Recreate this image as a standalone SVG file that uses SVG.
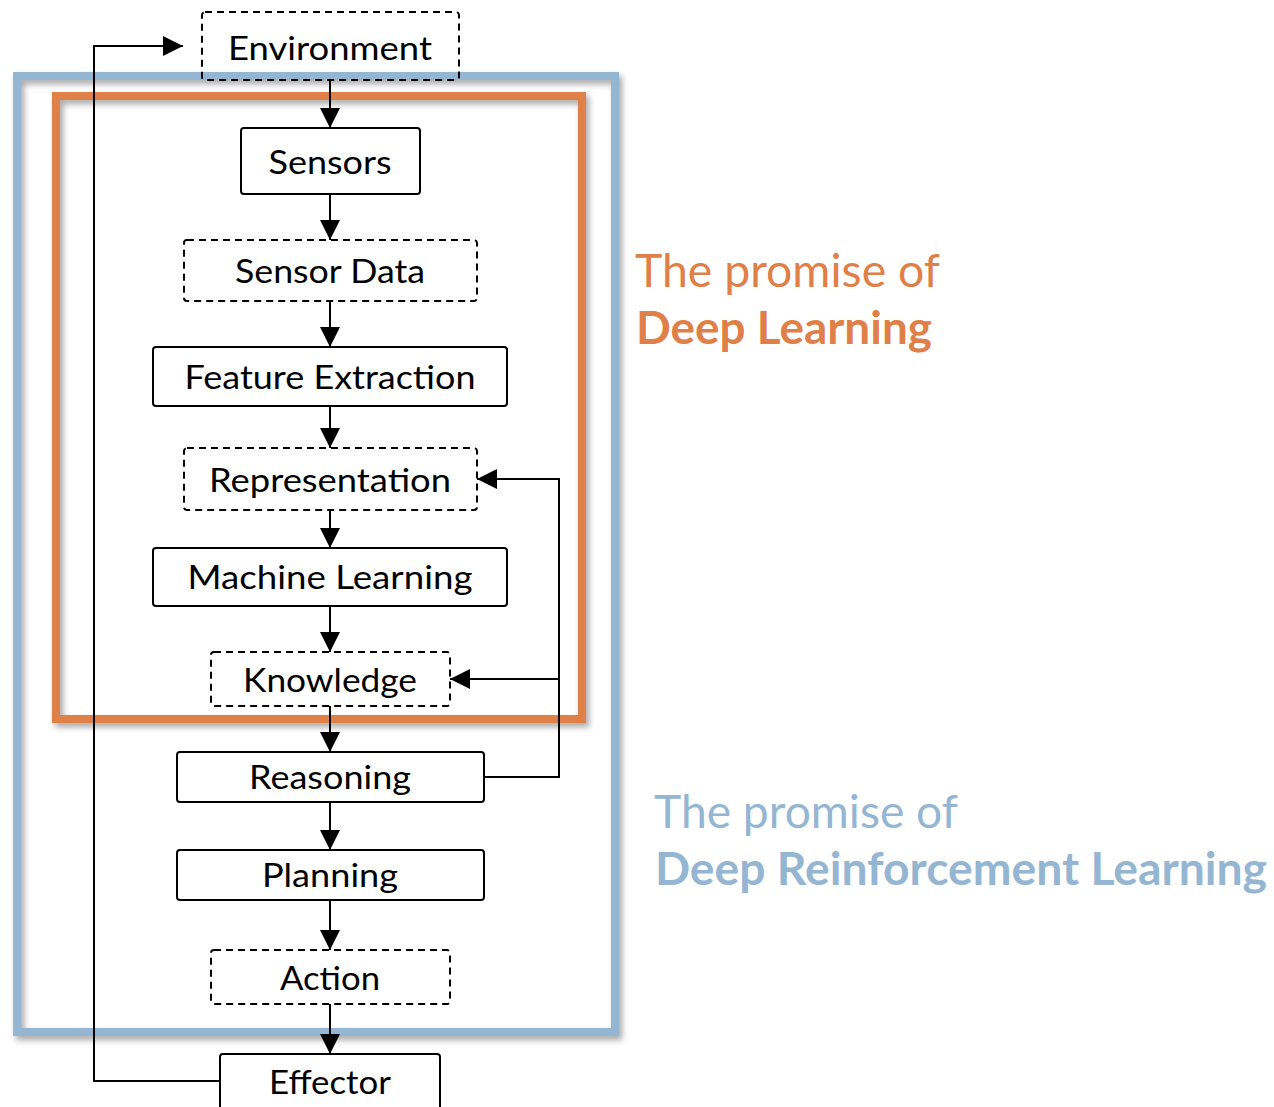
<svg xmlns="http://www.w3.org/2000/svg" width="1274" height="1107" viewBox="0 0 1274 1107">
  <defs>
    <filter id="shadow" x="-10%" y="-10%" width="120%" height="120%">
      <feDropShadow dx="3" dy="4" stdDeviation="3" flood-color="#000" flood-opacity="0.35"/>
    </filter>
    <marker id="arrow" viewBox="0 0 20 20" refX="20" refY="10" markerWidth="20" markerHeight="20" markerUnits="userSpaceOnUse" orient="auto">
      <path d="M0,0 L20,10 L0,20 Z" fill="#000"/>
    </marker>
  </defs>
  <style>
    .box { fill: none; stroke: #000; stroke-width: 2; }
    .dashed { stroke-dasharray: 7 5; }
    .label { font-family: Lato, "Open Sans", "Liberation Sans", sans-serif; font-size: 33px; fill: #000; text-anchor: middle; }
    .conn { fill: none; stroke: #000; stroke-width: 2; }
    .frame { fill: none; stroke-width: 8; filter: url(#shadow); }
    .caption { font-family: Lato, "Open Sans", "Liberation Sans", sans-serif; font-size: 46px; }
    .bold { font-weight: bold; }
  </style>
  <rect width="1274" height="1107" fill="#fff"/>

  <!-- scope frames -->
  <g id="frame-drl">
    <rect class="frame" x="17" y="76" width="598" height="956" stroke="#94b6d3"/>
  </g>
  <g id="frame-dl">
    <rect class="frame" x="56" y="96" width="526" height="623" stroke="#df8048"/>
  </g>

  <!-- pipeline nodes -->
  <g id="environment">
    <rect class="box dashed" x="202" y="12" width="257" height="68" rx="3"/>
    <text class="label" x="330" y="60" textLength="204" lengthAdjust="spacingAndGlyphs">Environment</text>
  </g>
  <g id="sensors">
    <rect class="box" x="241" y="128" width="179" height="66" rx="3"/>
    <text class="label" x="330" y="174" textLength="123" lengthAdjust="spacingAndGlyphs">Sensors</text>
  </g>
  <g id="sensor-data">
    <rect class="box dashed" x="184" y="240" width="293" height="61" rx="3"/>
    <text class="label" x="330" y="283" textLength="190" lengthAdjust="spacingAndGlyphs">Sensor Data</text>
  </g>
  <g id="feature-extraction">
    <rect class="box" x="153" y="347" width="354" height="59" rx="3"/>
    <text class="label" x="330" y="389" textLength="291" lengthAdjust="spacingAndGlyphs">Feature Extraction</text>
  </g>
  <g id="representation">
    <rect class="box dashed" x="184" y="448" width="293" height="62" rx="3"/>
    <text class="label" x="330" y="492" textLength="242" lengthAdjust="spacingAndGlyphs">Representation</text>
  </g>
  <g id="machine-learning">
    <rect class="box" x="153" y="548" width="354" height="58" rx="3"/>
    <text class="label" x="330" y="589" textLength="285" lengthAdjust="spacingAndGlyphs">Machine Learning</text>
  </g>
  <g id="knowledge">
    <rect class="box dashed" x="211" y="652" width="239" height="54" rx="3"/>
    <text class="label" x="330" y="692" textLength="174" lengthAdjust="spacingAndGlyphs">Knowledge</text>
  </g>
  <g id="reasoning">
    <rect class="box" x="177" y="752" width="307" height="50" rx="3"/>
    <text class="label" x="330" y="789" textLength="162" lengthAdjust="spacingAndGlyphs">Reasoning</text>
  </g>
  <g id="planning">
    <rect class="box" x="177" y="850" width="307" height="50" rx="3"/>
    <text class="label" x="330" y="887" textLength="136" lengthAdjust="spacingAndGlyphs">Planning</text>
  </g>
  <g id="action">
    <rect class="box dashed" x="211" y="950" width="239" height="54" rx="3"/>
    <text class="label" x="330" y="990" textLength="100" lengthAdjust="spacingAndGlyphs">Action</text>
  </g>
  <g id="effector">
    <rect class="box" x="220" y="1054" width="220" height="58" rx="3"/>
    <text class="label" x="330" y="1094" textLength="122" lengthAdjust="spacingAndGlyphs">Effector</text>
  </g>

  <!-- connectors -->
  <g id="connectors">
    <line class="conn" x1="330" y1="80" x2="330" y2="128" marker-end="url(#arrow)"/>
    <line class="conn" x1="330" y1="194" x2="330" y2="240" marker-end="url(#arrow)"/>
    <line class="conn" x1="330" y1="301" x2="330" y2="347" marker-end="url(#arrow)"/>
    <line class="conn" x1="330" y1="406" x2="330" y2="448" marker-end="url(#arrow)"/>
    <line class="conn" x1="330" y1="510" x2="330" y2="548" marker-end="url(#arrow)"/>
    <line class="conn" x1="330" y1="606" x2="330" y2="652" marker-end="url(#arrow)"/>
    <line class="conn" x1="330" y1="706" x2="330" y2="752" marker-end="url(#arrow)"/>
    <line class="conn" x1="330" y1="802" x2="330" y2="850" marker-end="url(#arrow)"/>
    <line class="conn" x1="330" y1="900" x2="330" y2="950" marker-end="url(#arrow)"/>
    <line class="conn" x1="330" y1="1004" x2="330" y2="1054" marker-end="url(#arrow)"/>
    <!-- effector back to environment -->
    <polyline class="conn" points="220,1081 94,1081 94,46 183,46" marker-end="url(#arrow)"/>
    <!-- reasoning feedback to representation and knowledge -->
    <polyline class="conn" points="484,777 559,777 559,479 477,479" marker-end="url(#arrow)"/>
    <line class="conn" x1="559" y1="679" x2="450" y2="679" marker-end="url(#arrow)"/>
  </g>

  <!-- captions -->
  <g id="caption-dl" fill="#df8048">
    <text class="caption" x="635" y="287" textLength="305" lengthAdjust="spacingAndGlyphs">The promise of</text>
    <text class="caption bold" x="636" y="344" textLength="296" lengthAdjust="spacingAndGlyphs">Deep Learning</text>
  </g>
  <g id="caption-drl" fill="#94b6d3">
    <text class="caption" x="654" y="828" textLength="304" lengthAdjust="spacingAndGlyphs">The promise of</text>
    <text class="caption bold" x="655" y="885" textLength="612" lengthAdjust="spacingAndGlyphs">Deep Reinforcement Learning</text>
  </g>
</svg>
